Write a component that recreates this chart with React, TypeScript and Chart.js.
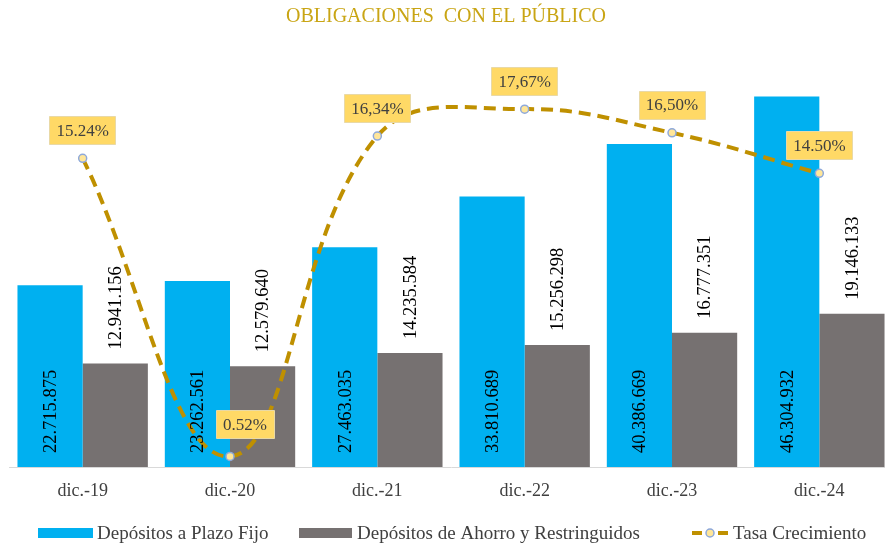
import React, { useEffect, useRef } from "react";
import { Chart, registerables } from "chart.js";

Chart.register(...registerables);

const categories = ["dic.-19", "dic.-20", "dic.-21", "dic.-22", "dic.-23", "dic.-24"];
const plazoFijo = [22715875, 23262561, 27463035, 33810689, 40386669, 46304932];
const ahorro = [12941156, 12579640, 14235584, 15256298, 16777351, 19146133];
const tasa = [15.24, 0.52, 16.34, 17.67, 16.5, 14.5];
const tasaLabels = ["15.24%", "0.52%", "16,34%", "17,67%", "16,50%", "14.50%"];
const seriesNames = ["Depósitos a Plazo Fijo", "Depósitos de Ahorro y Restringuidos", "Tasa Crecimiento"];
const title = "OBLIGACIONES  CON EL PÚBLICO";

const BLUE = "#00B0F0";
const GREY = "#767171";
const GOLD = "#BF9000";
const SERIF = "'Liberation Serif', 'DejaVu Serif', serif";

const fmt = (v: number) => v.toString().replace(/\B(?=(\d{3})+(?!\d))/g, ".");

const overlay = {
  id: "overlay",
  afterDatasetsDraw(chart: any) {
    const ctx = chart.ctx;
    ctx.save();
    ctx.font = `18.5px ${SERIF}`;
    ctx.fillStyle = "#000";
    ctx.textBaseline = "middle";
    ctx.textAlign = "left";
    [0, 1].forEach((di) => {
      const meta = chart.getDatasetMeta(di);
      const data = chart.data.datasets[di].data as number[];
      meta.data.forEach((el: any, i: number) => {
        const start = di === 0 ? el.base - 14 : el.y - 14;
        ctx.save();
        ctx.translate(el.x + 1, start);
        ctx.rotate(-Math.PI / 2);
        ctx.fillText(fmt(data[i]), 0, 0);
        ctx.restore();
      });
    });
    ctx.restore();

    const lmeta = chart.getDatasetMeta(2);
    ctx.save();
    ctx.font = `17px ${SERIF}`;
    lmeta.data.forEach((el: any, i: number) => {
      const txt = tasaLabels[i];
      const w = ctx.measureText(txt).width + 14;
      const h = 28;
      let cx = el.x;
      let cy = el.y - 28;
      if (tasa[i] < 2) {
        cx = el.x + 15;
        cy = el.y - 32;
      }
      ctx.fillStyle = "#FFD966";
      ctx.strokeStyle = "#E9D9A6";
      ctx.lineWidth = 1;
      ctx.beginPath();
      ctx.rect(Math.round(cx - w / 2) + 0.5, Math.round(cy - h / 2) + 0.5, Math.round(w), h);
      ctx.fill();
      ctx.stroke();
      ctx.fillStyle = "#404040";
      ctx.textAlign = "center";
      ctx.textBaseline = "middle";
      ctx.fillText(txt, cx, cy + 1);
    });
    ctx.restore();
  },
  afterDraw(chart: any) {
    const ctx = chart.ctx;
    ctx.save();
    ctx.font = `20px ${SERIF}`;
    ctx.fillStyle = "#C9A514";
    ctx.textAlign = "center";
    ctx.textBaseline = "middle";
    ctx.fillText(title, 446, 17);

    ctx.font = `19px ${SERIF}`;
    ctx.textAlign = "left";
    const ly = 533;
    ctx.fillStyle = BLUE;
    ctx.fillRect(38, ly - 5, 55, 10);
    ctx.fillStyle = "#404040";
    ctx.fillText(seriesNames[0], 97, ly + 1);
    ctx.fillStyle = GREY;
    ctx.fillRect(299, ly - 5, 53, 10);
    ctx.fillStyle = "#404040";
    ctx.fillText(seriesNames[1], 357, ly + 1);
    const x = 692;
    ctx.strokeStyle = GOLD;
    ctx.lineWidth = 4;
    ctx.beginPath();
    ctx.moveTo(x, ly);
    ctx.lineTo(x + 10, ly);
    ctx.moveTo(x + 26, ly);
    ctx.lineTo(x + 36, ly);
    ctx.stroke();
    ctx.beginPath();
    ctx.arc(x + 18, ly, 4, 0, Math.PI * 2);
    ctx.fillStyle = "#FFE699";
    ctx.fill();
    ctx.strokeStyle = "#8EA9DB";
    ctx.lineWidth = 1.5;
    ctx.stroke();
    ctx.fillStyle = "#404040";
    ctx.fillText(seriesNames[2], 733, ly + 1);
    ctx.restore();
  },
};

export default function App() {
  const ref = useRef<HTMLCanvasElement | null>(null);
  useEffect(() => {
    if (!ref.current) return;
    const chart = new Chart(ref.current, {
      type: "bar",
      data: {
        labels: categories,
        datasets: [
          {
            type: "bar",
            label: seriesNames[0],
            data: plazoFijo,
            backgroundColor: BLUE,
            yAxisID: "y",
            order: 2,
            barPercentage: 1,
            categoryPercentage: 0.885,
          },
          {
            type: "bar",
            label: seriesNames[1],
            data: ahorro,
            backgroundColor: GREY,
            yAxisID: "y",
            order: 2,
            barPercentage: 1,
            categoryPercentage: 0.885,
          },
          {
            type: "line",
            label: seriesNames[2],
            data: tasa,
            yAxisID: "y1",
            order: 0,
            borderColor: GOLD,
            borderWidth: 4,
            borderDash: [12, 7],
            tension: 0.4,
            fill: false,
            pointRadius: 4,
            pointBackgroundColor: "#FFE699",
            pointBorderColor: "#8EA9DB",
            pointBorderWidth: 1.5,
          } as any,
        ],
      },
      options: {
        responsive: false,
        animation: false,
        layout: { padding: { left: 9, right: 7, top: 67, bottom: 0 } },
        plugins: {
          legend: { display: false },
          title: { display: false },
          tooltip: { enabled: false },
        },
        scales: {
          x: {
            grid: { display: false, drawTicks: false },
            border: { display: true, color: "#D9D9D9", width: 1 },
            ticks: {
              color: "#404040",
              font: { size: 18, family: SERIF },
              padding: 13,
            },
            afterFit: (s: any) => {
              s.height = 79;
            },
          },
          y: { display: false, min: 0, max: 50000000 },
          y1: { display: false, min: 0, max: 19.75, position: "right" },
        },
      },
      plugins: [overlay],
    });
    return () => chart.destroy();
  }, []);
  return (
    <div style={{ position: "fixed", left: 0, top: 0, width: 885, height: 546, overflow: "hidden", background: "#fff" }}>
      <canvas ref={ref} width={900} height={546} style={{ display: "block" }} />
    </div>
  );
}
